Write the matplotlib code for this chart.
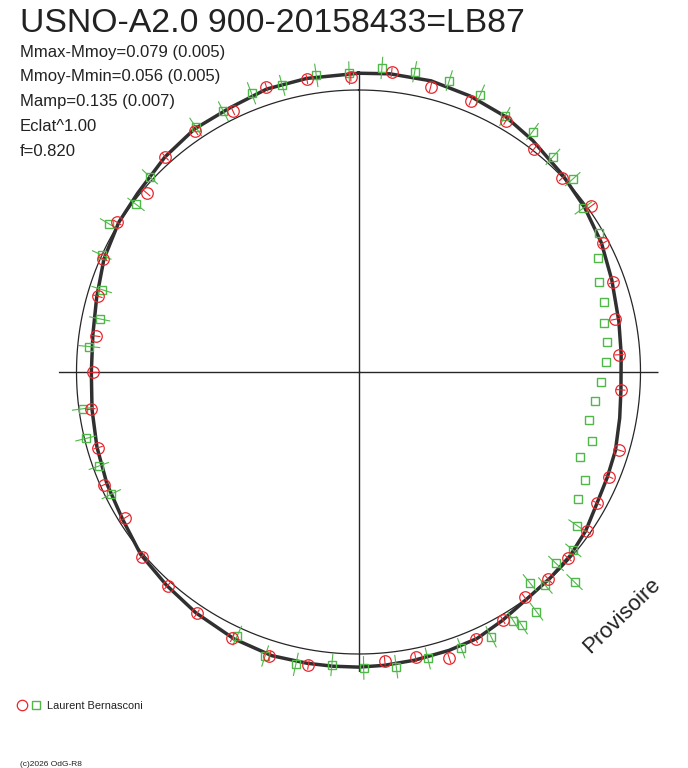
import numpy as np
import matplotlib
matplotlib.use("Agg")
import matplotlib.pyplot as plt
from matplotlib.lines import Line2D

plt.rcParams['font.family'] = ['Liberation Sans', 'DejaVu Sans']

# ---------------- data ----------------
title = "USNO-A2.0 900-20158433=LB87"
stats_lines = ["Mmax-Mmoy=0.079 (0.005)", "Mmoy-Mmin=0.056 (0.005)",
               "Mamp=0.135 (0.007)", "Eclat^1.00", "f=0.820"]
observer = "Laurent Bernasconi"
copyright_txt = "(c)2026 OdG-R8"
stamp = "Provisoire"

# red series (phase in degrees, clockwise from top; magnitude deviation, brighter = outward)
red_phase_deg = [6.3, 14.2, 22.5, 30.4, 38.2, 46.4, 54.5, 62.2, 70.6, 78.4,
                 86.2, 93.9, 106.7, 112.7, 118.8, 124.9, 131.6, 137.5, 143.6, 149.8,
                 156.3, 162.4, 168.7, 174.8, 189.7, 197.4, 205.4, 213.8, 221.8, 229.6,
                 238.0, 246.1, 253.8, 262.1, 269.9, 277.8, 286.2, 293.9, 301.8, 310.2,
                 318.1, 325.9, 334.3, 342.1, 350.0, 358.5]
red_dm = [0.091, 0.054, 0.054, 0.044, 0.008, -0.002, 0.017, -0.025, -0.055, -0.092,
          -0.097, -0.089, -0.046, -0.049, -0.045, -0.015, -0.009, -0.004, -0.009, 0.023,
          0.044, 0.086, 0.042, 0.038, 0.071, 0.073, 0.056, 0.040, 0.021, 0.013,
          -0.032, -0.018, -0.051, -0.055, -0.078, -0.078, -0.048, -0.013, 0.008, -0.022,
          0.033, 0.043, 0.037, 0.081, 0.071, 0.062]
red_err = [0.022, 0.022, 0.024, 0.022, 0.022, 0.022, 0.024, 0.022, 0.022, 0.022,
           0.022, 0.022, 0.024, 0.022, 0.022, 0.022, 0.022, 0.024, 0.022, 0.022,
           0.022, 0.024, 0.022, 0.022, 0.022, 0.024, 0.022, 0.022, 0.022, 0.022,
           0.024, 0.022, 0.022, 0.022, 0.022, 0.022, 0.024, 0.022, 0.022, 0.022,
           0.022, 0.024, 0.022, 0.022, 0.022, 0.022]

# green series
green_phase_deg = [4.4, 10.6, 17.3, 23.7, 29.8, 35.9, 42.1, 48.0, 53.9, 59.9,
                   64.5, 69.5, 74.1, 78.7, 83.1, 87.7, 92.3, 97.1, 101.8, 106.4,
                   111.0, 115.5, 120.0, 125.1, 129.7, 134.1, 134.2, 138.8, 140.9, 143.4,
                   147.2, 148.1, 153.4, 159.6, 166.4, 172.7, 179.0, 185.2, 192.1, 198.2,
                   204.7, 243.7, 250.1, 256.3, 262.4, 275.4, 281.6, 287.8, 294.5, 300.7,
                   307.0, 313.1, 326.4, 332.6, 339.0, 345.1, 351.9, 358.2]
green_dm = [0.107, 0.109, 0.108, 0.096, 0.058, 0.069, 0.037, 0.029, -0.017, -0.018,
            -0.079, -0.119, -0.126, -0.147, -0.146, -0.161, -0.181, -0.205, -0.216, -0.180,
            -0.208, -0.146, -0.134, -0.068, -0.013, -0.032, 0.090, 0.008, -0.049, 0.076,
            0.090, 0.051, 0.066, 0.059, 0.059, 0.070, 0.065, 0.057, 0.079, 0.079,
            0.038, -0.029, -0.027, -0.006, -0.017, -0.053, -0.083, -0.057, 0.001, 0.037,
            -0.016, 0.017, 0.056, 0.054, 0.077, 0.068, 0.082, 0.079]
green_err = [0.052, 0.050, 0.050, 0.052, 0.050, 0.048, 0.050, 0.048, 0.050, 0.0,
             0.0, 0.0, 0.0, 0.0, 0.0, 0.0, 0.0, 0.0, 0.0, 0.0,
             0.0, 0.0, 0.0, 0.050, 0.048, 0.050, 0.052, 0.050, 0.050, 0.052,
             0.050, 0.048, 0.055, 0.050, 0.052, 0.055, 0.055, 0.052, 0.055, 0.052,
             0.050, 0.050, 0.050, 0.050, 0.050, 0.052, 0.050, 0.050, 0.050, 0.050,
             0.050, 0.050, 0.052, 0.052, 0.055, 0.050, 0.055, 0.055]

# fitted mean light curve
curve_deg = [0, 6, 14, 22, 30, 37, 46, 54, 62, 70,
             79, 86, 94, 100, 107, 113, 119, 125, 131, 137,
             143, 150, 156, 162, 169, 175, 180, 185, 190, 197,
             205, 214, 222, 230, 238, 246, 254, 262, 270, 278,
             286, 294, 302, 309, 318, 326, 334, 342, 350, 360]
curve_dm = [0.078, 0.083, 0.084, 0.073, 0.059, 0.036, 0.008, -0.011, -0.032, -0.058,
            -0.078, -0.087, -0.088, -0.078, -0.062, -0.055, -0.045, -0.022, -0.008, -0.003,
            0.002, 0.024, 0.045, 0.050, 0.054, 0.058, 0.061, 0.062, 0.064, 0.068,
            0.058, 0.040, 0.023, 0.010, -0.018, -0.031, -0.046, -0.060, -0.069, -0.064,
            -0.045, -0.016, 0.003, 0.010, 0.034, 0.052, 0.055, 0.072, 0.075, 0.078]

# ---------------- layout ----------------
W, H = 688, 768
CX, CY = 358.5, 372.0      # centre in pixels (from top-left)
R_AX = 300.0               # axes radius in pixels
R_MEAN = 282.0             # radius of mean level circle
PX_PER_MAG = 215.0
rmin = -R_MEAN / PX_PER_MAG
rmax = rmin + R_AX / PX_PER_MAG

RED = '#e8262d'
GREEN = '#4fb848'
DARK = '#262626'

fig = plt.figure(figsize=(W / 100, H / 100), dpi=100)
ax = fig.add_axes([(CX - R_AX) / W, (H - CY - R_AX) / H, 2 * R_AX / W, 2 * R_AX / H],
                  projection='polar')
ax.set_theta_zero_location('N')
ax.set_theta_direction(-1)
ax.set_ylim(rmin, rmax)
ax.set_yticks([])
ax.set_xticks(np.deg2rad([0, 90, 180, 270]))
ax.set_xticklabels([])
ax.tick_params(length=0)
ax.xaxis.grid(True, color=DARK, lw=1.0)
ax.spines['polar'].set_visible(False)
ax.patch.set_alpha(0)

# mean level circle
tt = np.linspace(0, 2 * np.pi, 721)
ax.plot(tt, np.zeros_like(tt), color=DARK, lw=0.9, zorder=2)

# fitted curve
ax.plot(np.deg2rad(curve_deg), curve_dm, color='#303030', lw=2.5, zorder=3,
        solid_joinstyle='round', clip_on=False)

# green error bars + squares
gth = np.deg2rad(green_phase_deg)
gdm = np.array(green_dm)
gerr = np.array(green_err)
m = gerr > 0
ax.vlines(gth[m], gdm[m] - gerr[m], gdm[m] + gerr[m], colors=GREEN, lw=0.8,
          zorder=4, clip_on=False)
ax.plot(gth, gdm, ls='none', marker='s', ms=6.3, mfc='none', mec=GREEN, mew=1.0,
        zorder=5, clip_on=False)

# red error bars + circles
rth = np.deg2rad(red_phase_deg)
rdm = np.array(red_dm)
rerr = np.array(red_err)
ax.vlines(rth, rdm - rerr, rdm + rerr, colors=RED, lw=0.8, zorder=6, clip_on=False)
ax.plot(rth, rdm, ls='none', marker='o', ms=8.3, mfc='none', mec=RED, mew=0.9,
        zorder=7, clip_on=False)

# ---------------- texts ----------------
def fx(px):
    return px / W

def fy(py):
    return 1 - py / H

fig.text(fx(20), fy(32.5), title, fontsize=24.3, color='#222222', va='baseline', ha='left')
for i, s in enumerate(stats_lines):
    fig.text(fx(20), fy(56.5 + 24.8 * i), s, fontsize=12, color='#222222',
             va='baseline', ha='left')

fig.text(fx(626), fy(620), stamp, fontsize=16, color='#222222', rotation=44,
         rotation_mode='anchor', ha='center', va='baseline')

# legend
fig.add_artist(Line2D([fx(22)], [fy(705)], transform=fig.transFigure, ls='none',
                      marker='o', ms=7.5, mfc='none', mec=RED, mew=0.9))
fig.add_artist(Line2D([fx(36)], [fy(705)], transform=fig.transFigure, ls='none',
                      marker='s', ms=6, mfc='none', mec=GREEN, mew=1.0))
fig.text(fx(47), fy(709), observer, fontsize=7.9, color='#222222', va='baseline', ha='left')
fig.text(fx(20), fy(766), copyright_txt, fontsize=6, color='#222222', va='baseline', ha='left')

fig.savefig('out.png', dpi=100, facecolor='white')
